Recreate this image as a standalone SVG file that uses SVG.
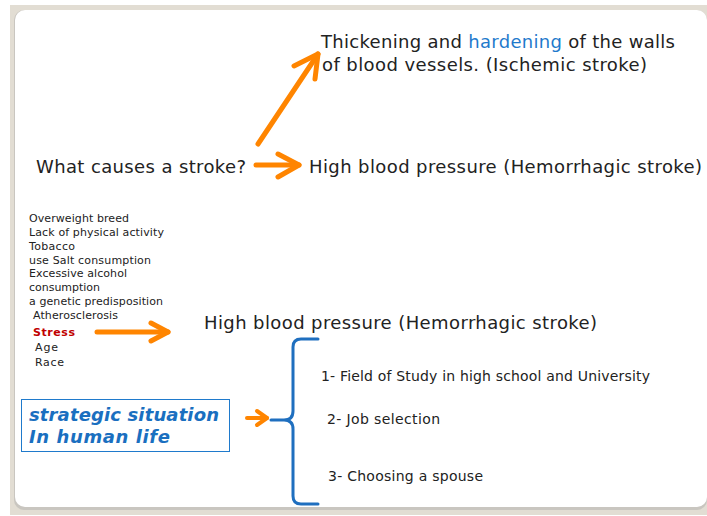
<svg xmlns="http://www.w3.org/2000/svg" width="707" height="516" viewBox="0 0 707 516">
  <style>
    .t { font-family: "DejaVu Sans", Verdana, sans-serif; fill: #222; }
    .main { font-size: 18px; }
    .small { font-size: 11px; }
    .item { font-size: 14px; }
    .blue { fill: #1f7acc; }
    .strat { font-size: 18px; font-weight: bold; font-style: italic; fill: #1a6fc0; }
    .arrow { fill: none; stroke: #ff8500; stroke-width: 5; stroke-linecap: round; stroke-linejoin: round; }
    .brace { fill: none; stroke: #1f6fbf; stroke-width: 3; stroke-linecap: round; stroke-linejoin: round; }
  </style>

  <!-- slide frame -->
  <rect x="0" y="0" width="707" height="516" fill="#ffffff"/>
  <rect x="10" y="5" width="697" height="510" fill="#e2ddd3"/>
  <rect x="14" y="10" width="693" height="500" rx="10" fill="#c9c6c0"/>
  <rect x="15" y="10" width="692" height="497" rx="10" fill="#ffffff"/>

  <g id="question">
    <text class="t main" x="36" y="173" textLength="210">What causes a stroke?</text>
  </g>

  <g id="ischemic">
    <text class="t main" x="321" y="48" textLength="354">Thickening and <tspan class="blue">hardening</tspan> of the walls</text>
    <text class="t main" x="322" y="71" textLength="325">of blood vessels. (Ischemic stroke)</text>
  </g>

  <g id="hemorrhagic-top">
    <text class="t main" x="309" y="173" textLength="393">High blood pressure (Hemorrhagic stroke)</text>
  </g>

  <g id="risk-factors">
    <text class="t small" x="29" y="222" textLength="100">Overweight breed</text>
    <text class="t small" x="29" y="236" textLength="135">Lack of physical activity</text>
    <text class="t small" x="29" y="250" textLength="46">Tobacco</text>
    <text class="t small" x="29" y="264" textLength="122">use Salt consumption</text>
    <text class="t small" x="29" y="277" textLength="98">Excessive alcohol</text>
    <text class="t small" x="29" y="291" textLength="71">consumption</text>
    <text class="t small" x="29" y="305" textLength="134">a genetic predisposition</text>
    <text class="t small" x="33" y="319" textLength="85">Atherosclerosis</text>
    <text class="t small" x="33" y="336" textLength="42" font-weight="bold" style="fill:#c00000">Stress</text>
    <text class="t small" x="35" y="351" textLength="23">Age</text>
    <text class="t small" x="35" y="366" textLength="29">Race</text>
  </g>

  <g id="hemorrhagic-bottom">
    <text class="t main" x="204" y="329" textLength="393">High blood pressure (Hemorrhagic stroke)</text>
  </g>

  <g id="strategic">
    <rect x="21.5" y="399.5" width="208" height="52" fill="#ffffff" stroke="#1f7acc" stroke-width="1"/>
    <text class="t strat" x="29" y="421" textLength="190">strategic situation</text>
    <text class="t strat" x="29" y="443" textLength="141">In human life</text>
  </g>

  <g id="choices">
    <text class="t item" x="321" y="381" textLength="329">1- Field of Study in high school and University</text>
    <text class="t item" x="327" y="424" textLength="113">2-  Job selection</text>
    <text class="t item" x="328" y="481" textLength="155">3- Choosing a spouse</text>
  </g>

  <g id="connectors">
    <!-- question to ischemic -->
    <line class="arrow" x1="258" y1="144" x2="318" y2="54"/>
    <polyline class="arrow" points="294,66 318,54 315,79"/>
    <!-- question to hemorrhagic -->
    <line class="arrow" x1="256" y1="165" x2="299" y2="165"/>
    <polyline class="arrow" points="278,154 299,165 278,177"/>
    <!-- stress to hemorrhagic -->
    <line class="arrow" x1="97" y1="332" x2="168" y2="332"/>
    <polyline class="arrow" points="151,323 168,332 151,341"/>
    <!-- strategic box to brace -->
    <line class="arrow" x1="247" y1="418" x2="267" y2="418" style="stroke-width:4"/>
    <polyline class="arrow" points="257,411 267,418 257,425" style="stroke-width:4"/>
    <!-- brace -->
    <path class="brace" d="M318,339 H301 Q293,339 293,347 V411 Q293,420 284,420 H271 M284,420 Q293,420 293,429 V496 Q293,504 301,504 H318"/>
  </g>
</svg>
